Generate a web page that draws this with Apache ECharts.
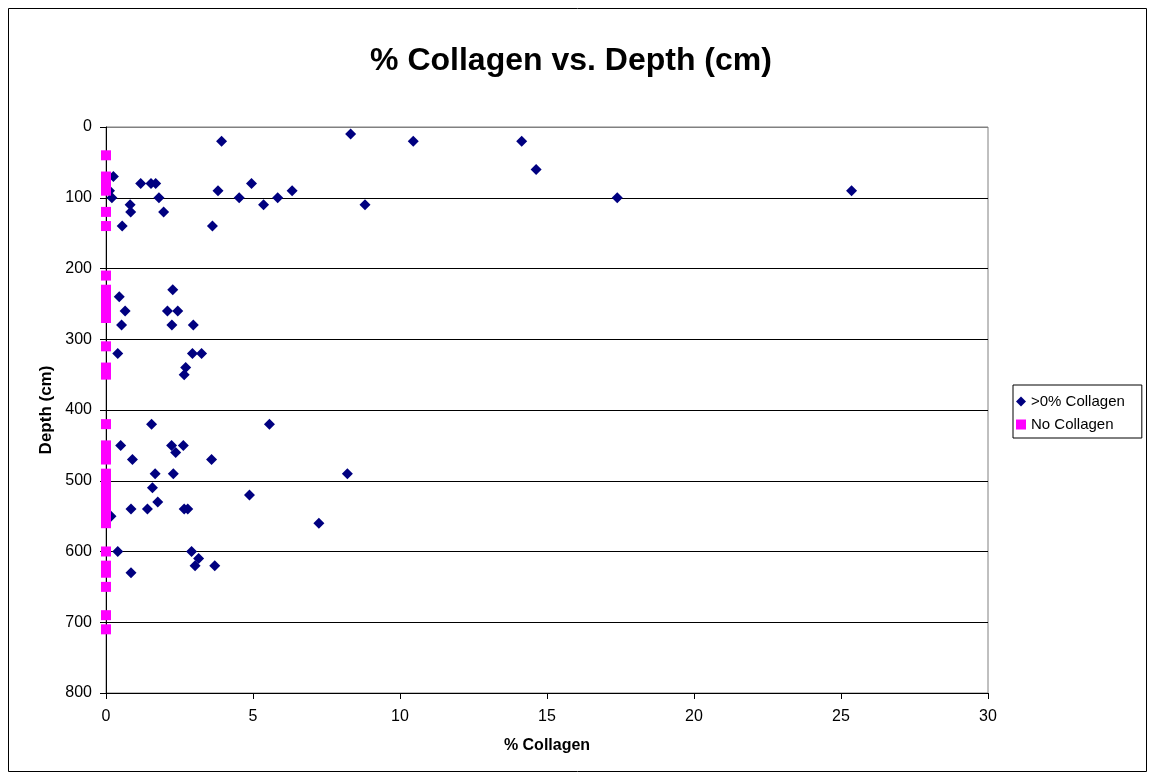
<!DOCTYPE html>
<html>
<head>
<meta charset="utf-8">
<script src="https://cdn.jsdelivr.net/npm/echarts@6/dist/echarts.min.js"></script>
<style>
html,body{margin:0;padding:0;background:#fff;}
#chart{width:1150px;height:776px;}
</style>
</head>
<body>
<div id="chart"></div>
<script>
// % collagen (x) and depth in cm (y) for samples with collagen
const collagenPct = [8.32, 3.93, 10.45, 14.14, 14.63, 0.25, 1.18, 1.53, 1.69, 4.95, 0.12, 3.81, 6.33, 25.36,
  0.2, 1.8, 4.53, 5.84, 17.39, 0.82, 5.36, 8.81, 0.84, 1.96, 0.55, 3.62,
  2.27, 0.45, 0.65, 2.09, 2.44, 0.53, 2.24, 2.97, 0.4, 2.94, 3.25, 2.71, 2.66,
  1.55, 5.56, 0.5, 2.23, 2.63, 2.37, 0.9, 3.59, 1.67, 2.29, 8.21, 1.58, 4.88, 1.76,
  0.85, 1.41, 2.66, 2.78, 0.17, 7.24, 0.4, 2.91, 3.15, 3.03, 3.7, 0.85];
const collagenDepth = [10, 20, 20, 20, 60, 70, 80, 80, 80, 80, 90, 90, 90, 90,
  100, 100, 100, 100, 100, 110, 110, 110, 120, 120, 140, 140,
  230, 240, 260, 260, 260, 280, 280, 280, 320, 320, 320, 340, 350,
  420, 420, 450, 450, 450, 460, 470, 470, 490, 490, 490, 510, 520, 530,
  540, 540, 540, 540, 550, 560, 600, 600, 610, 620, 620, 630];
// depths of samples with no collagen (x = 0)
const noCollagenDepth = [40, 70, 80, 90, 120, 140, 210, 230, 240, 250, 260, 270, 310, 340, 350,
  420, 450, 460, 470, 490, 500, 510, 520, 530, 540, 550, 560, 600, 620, 630, 650, 690, 710];
const noCollagenPct = noCollagenDepth.map(() => 0);
const seriesNames = ['>0% Collagen', 'No Collagen'];

const font = 'Liberation Sans, Arial, sans-serif';
const chart = echarts.init(document.getElementById('chart'));
chart.setOption({
  backgroundColor: '#ffffff',
  animation: false,
  title: {
    text: '% Collagen vs. Depth (cm)',
    left: 566, top: 40, textAlign: 'center',
    textStyle: {fontFamily: font, fontSize: 32, fontWeight: 'bold', color: '#000'}
  },
  legend: {
    orient: 'vertical', left: 1013, top: 385,
    borderColor: '#000', borderWidth: 1, padding: [8, 17, 5, 3],
    itemWidth: 10, itemHeight: 10, itemGap: 6,
    textStyle: {fontFamily: font, fontSize: 15, lineHeight: 17, color: '#000', padding: [0, 0, 0, 0]},
    data: [{name: seriesNames[0], icon: 'diamond'}, {name: seriesNames[1], icon: 'rect'}]
  },
  grid: {left: 106, right: 162, top: 127, bottom: 83, show: true, borderColor: '#808080', borderWidth: 1},
  xAxis: {
    type: 'value', min: 0, max: 30, interval: 5,
    name: '% Collagen', nameLocation: 'middle', nameGap: 45,
    nameTextStyle: {fontFamily: font, fontSize: 16, fontWeight: 'bold', color: '#000'},
    axisLine: {onZero: false, lineStyle: {color: '#000', width: 1}},
    axisTick: {show: true, inside: false, length: 6, lineStyle: {color: '#000'}},
    axisLabel: {fontFamily: font, fontSize: 16, color: '#000', margin: 16},
    splitLine: {show: false}
  },
  yAxis: {
    type: 'value', min: 0, max: 800, interval: 100, inverse: true,
    name: 'Depth (cm)', nameLocation: 'middle', nameGap: 50, nameRotate: 90,
    nameTextStyle: {fontFamily: font, fontSize: 17, fontWeight: 'bold', color: '#000'},
    axisLine: {show: true, onZero: false, lineStyle: {color: '#000', width: 1}},
    axisTick: {show: true, inside: false, length: 6, lineStyle: {color: '#000'}},
    axisLabel: {fontFamily: font, fontSize: 16, color: '#000', margin: 14},
    splitLine: {show: true, lineStyle: {color: ['#808080', '#000', '#000', '#000', '#000', '#000', '#000', '#000', '#000'], width: 1}}
  },
  series: [
    {
      name: seriesNames[1], type: 'scatter', symbol: 'rect', symbolSize: [10, 10],
      itemStyle: {color: '#ff00ff', opacity: 1},
      data: noCollagenPct.map((v, i) => [v, noCollagenDepth[i]]), z: 2
    },
    {
      name: seriesNames[0], type: 'scatter', symbol: 'diamond', symbolSize: [11, 11],
      itemStyle: {color: '#000080', opacity: 1},
      data: collagenPct.map((v, i) => [v, collagenDepth[i]]), z: 1
    }
  ],
  graphic: [{
    type: 'rect', shape: {x: 8.5, y: 8.5, width: 1138, height: 763},
    style: {fill: 'none', stroke: '#000', lineWidth: 1}, silent: true, z: -1
  }]
});
</script>
</body>
</html>
